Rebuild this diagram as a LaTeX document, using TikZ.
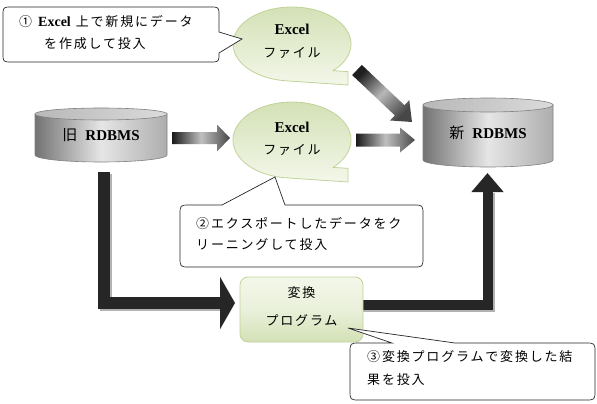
\documentclass[tikz,border=0pt]{standalone}
\usepackage{fontspec}
\setmainfont{Liberation Serif}
\newfontfamily\jp{Noto Sans CJK JP}[LetterSpace=14]
\usetikzlibrary{calc,arrows.meta}
\definecolor{bubD}{RGB}{212,225,182}
\definecolor{bubL}{RGB}{243,247,234}
\definecolor{bubB}{RGB}{192,211,152}
\tikzset{
  jptext/.style={inner sep=0pt, font={\fontsize{13}{15}\selectfont\jp}},
  xltitle/.style={inner sep=0pt, font={\fontsize{15}{17}\selectfont\bfseries}},
  dbtext/.style={inner sep=0pt, font={\fontsize{15}{17}\selectfont}},
  bubble/.style={top color=bubD, bottom color=bubL, draw=bubB, line width=0.8pt},
  progbox/.style={draw=bubB, line width=0.8pt, rounded corners=8pt, top color=bubL, bottom color=bubD, middle color=bubL!70!bubD, minimum width=123pt, minimum height=65pt, inner sep=0pt},
  cylbody/.style={left color=black!55, right color=black!32, middle color=black!10, draw=black!50, line width=0.6pt},
  cyltop/.style={left color=black!28, right color=black!14, draw=black!50, line width=0.6pt},
  callout/.style={draw=black!85, line width=0.7pt, fill=white},
  harrow/.style={left color=black!90, right color=black!72, middle color=black!25},
  darrow/.style={top color=black!88, bottom color=black!72, middle color=black!28, shading angle=45},
  lbar/.style={draw=black!85, line join=miter},
  lshadow/.style={draw=black!30, line join=miter},
}
\newcommand\blockarr[6]{%
  \coordinate (tmpH) at ($(#2)!#5!(#1)$);
  \shade[#6] ($(#1)!#3!90:(#2)$) -- ($(tmpH)!#3!90:(#2)$) -- ($(tmpH)!#4!90:(#2)$) -- (#2)
     -- ($(tmpH)!#4!-90:(#2)$) -- ($(tmpH)!#3!-90:(#2)$) -- ($(#1)!#3!-90:(#2)$) -- cycle;}
\newcommand\xlbubble[3]{%
  \shade[bubble] ({#1+41},{#2+0.72*#3}) -- ({#1+56},{#2+0.72*#3+1}) -- ({#1+56},{#2+#3+4})
     -- plot[domain=95:406,samples=90] ({#1+59*cos(\x)},{#2+#3*sin(\x)}) -- cycle;}
\begin{document}
\begin{tikzpicture}[x=1pt,y=-1pt]
\useasboundingbox (0,0) rectangle (597,404);
\fill[white] (0,0) rectangle (597,404);

% ---- connectors: big L arrows
\coordinate (oldbot) at (104,172);
\coordinate (progL) at (235,303);
\coordinate (progR) at (360,305);
\coordinate (newbot) at (487.5,173);
\draw[lshadow, line width=12pt] ([shift={(2,2)}]oldbot) |- ([shift={(-14,2)}]progL);
\draw[lbar, line width=12pt, -{Triangle[width=52pt,length=15pt]}] (oldbot) |- (progL);
\draw[lshadow, line width=10pt] ([shift={(2,2)}]progR) -| ([shift={(2,20)}]newbot);
\draw[lbar, line width=10pt, -{Triangle[width=31pt,length=19pt]}] (progR) -| (newbot);

% ---- cylinders
\shade[cylbody] (35,114) -- (35,155) -- plot[domain=180:0,samples=50] ({101+66*cos(\x)},{155+7*sin(\x)}) -- (167,114) -- cycle;
\shade[cyltop] plot[domain=0:360,samples=80] ({101+66*cos(\x)},{114+6*sin(\x)}) -- cycle;
\node[dbtext] (old) at (101,135) {{\jp 旧}\hspace{6pt}\textbf{RDBMS}};

\shade[cylbody] (423,105) -- (423,160) -- plot[domain=180:0,samples=50] ({488+65*cos(\x)},{160+7*sin(\x)}) -- (553,105) -- cycle;
\shade[cyltop] plot[domain=0:360,samples=80] ({488+65*cos(\x)},{105+7*sin(\x)}) -- cycle;
\node[dbtext] (new) at (488,133) {{\jp 新}\hspace{6pt}\textbf{RDBMS}};

% ---- Excel bubbles
\xlbubble{292}{44}{37}
\node[xltitle] (xl1) at (292,29) {Excel};
\node[jptext] (xl1b) at (292,53) {ファイル};
\xlbubble{292}{140}{38}
\node[xltitle] (xl2) at (292,127) {Excel};
\node[jptext] (xl2b) at (292,150) {ファイル};

% ---- block arrows
\coordinate (a1s) at (172,138); \coordinate (a1e) at (230,138);
\blockarr{a1s}{a1e}{6pt}{13.5pt}{13pt}{harrow}
\coordinate (a2s) at (356,140); \coordinate (a2e) at (415,140);
\blockarr{a2s}{a2e}{6.5pt}{12.5pt}{15pt}{harrow}
\coordinate (a3s) at (357,70); \coordinate (a3e) at (412,122);
\blockarr{a3s}{a3e}{7pt}{14pt}{17pt}{darrow}

% ---- program box
\node[progbox] (prog) at (301.5,309.5) {};
\node[jptext] (prog1) at (301.5,293) {変換};
\node[jptext] (prog2) at (301.5,320) {プログラム};

% ---- callouts
\draw[callout] (12,7) -- (210,7) .. controls (219,7) .. (219,16) -- (219,32) -- (242,39) -- (219,53)
  .. controls (219,62) .. (210,62) -- (12,62) .. controls (3,62) .. (3,53) -- (3,16) .. controls (3,7) .. (12,7) -- cycle;
\node[jptext, anchor=west] (c1a) at (19,22) {①\hspace{6pt}{\rmfamily\bfseries\fontsize{14}{16}\selectfont Excel}\hspace{5pt}上で新規にデータ};
\node[jptext, anchor=west] (c1b) at (44,44) {を作成して投入};

\draw[callout] (190,205) -- (222,205) -- (275,177) -- (285,205) -- (413,205) .. controls (423,205) .. (423,215)
  -- (423,257) .. controls (423,267) .. (413,267) -- (190,267) .. controls (180,267) .. (180,257) -- (180,215) .. controls (180,205) .. (190,205) -- cycle;
\node[jptext, anchor=west] (c2a) at (196,224) {②エクスポートしたデータをク};
\node[jptext, anchor=west] (c2b) at (196,245) {リーニングして投入};

\draw[callout] (360,343) -- (392,343) -- (348,328) -- (455,343) -- (585,343) .. controls (595,343) .. (595,353)
  -- (595,390) .. controls (595,400) .. (585,400) -- (360,400) .. controls (350,400) .. (350,390) -- (350,353) .. controls (350,343) .. (360,343) -- cycle;
\node[jptext, anchor=west] (c3a) at (367,357) {③変換プログラムで変換した結};
\node[jptext, anchor=west] (c3b) at (367,380) {果を投入};
\end{tikzpicture}
\end{document}
